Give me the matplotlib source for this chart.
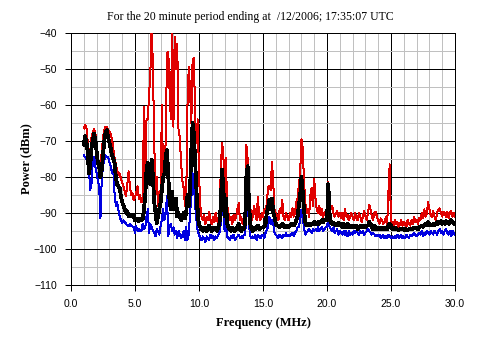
import matplotlib.pyplot as plt
import numpy as np

# frequency grid, 0.1 MHz steps from 1.0 to 30.0 MHz
freq = np.round(np.arange(1.0, 30.05, 0.1), 1)

# peak level (dBm)
peak = [
    -66.5, -65.5, -66, -70, -76, -73, -69, -67.5, -66.7, -67.5,
    -72, -76, -76.5, -78, -73, -69, -67, -66, -66.2, -67,
    -67.5, -68, -69.5, -72, -74.5, -76.5, -78, -79.4, -79, -80.5,
    -81.7, -82.5, -84, -85.4, -82, -78.4, -82.5, -85, -84.5, -86.5,
    -85.5, -84.5, -82.6, -86, -85, -87, -86.5, -60.5, -84, -64,
    -64, -57, -51, -38, -49.4, -70, -85, -80, -88, -84,
    -86, -60, -82, -78, -70, -45.6, -45.3, -56, -64, -38,
    -66, -41, -50, -43, -67, -69, -76, -81, -83, -88,
    -86, -60, -49.4, -56, -65, -47.5, -47, -63, -70.6, -64,
    -79, -88, -91, -92, -90.5, -93, -91, -92, -89.6, -92,
    -93, -91, -92.5, -90, -92, -93, -91, -78, -70.5, -73.5,
    -85, -74.8, -88, -90, -92, -91, -93, -90.5, -92, -91,
    -89, -87.3, -92, -91, -93, -92, -90, -71, -75, -86,
    -88, -92, -91, -88, -90, -92, -85.5, -91, -92, -90,
    -91, -89, -90, -87, -82.7, -82.5, -83.6, -75.7, -81.8, -89,
    -90, -91, -92, -89, -90, -86.4, -91, -92, -90, -91,
    -92, -90, -91, -88.7, -91, -90, -87, -86, -82.3, -79,
    -69.5, -72, -80.8, -87, -90, -89, -91, -85, -83.1, -88,
    -80.4, -86, -89, -90, -88, -90.5, -89, -91, -90, -89.5,
    -91, -81.3, -88, -89, -88, -90, -91, -90, -89.5, -91,
    -90, -91.5, -90, -92, -89, -91, -90.5, -92, -91, -90,
    -91, -92, -90, -91.5, -92, -90, -91, -92.5, -91, -89.5,
    -91, -92, -90, -87.8, -89, -91, -92, -90, -89.6, -91,
    -92, -93, -91.5, -92, -93, -92.5, -91, -93, -84, -76.5,
    -93, -92.5, -93.5, -92, -93, -92.5, -94, -93, -92, -93.5,
    -92.5, -93, -94, -92, -93, -93.5, -92, -93, -91, -92.5,
    -92, -93, -91.5, -92, -90, -91.5, -89, -91, -90, -86.9,
    -89, -90.5, -91, -89.5, -91, -92, -90, -89, -88.7, -90,
    -91, -89.6, -90, -91, -89.6, -91.5, -90, -89.5, -91, -90,
    -91,
]

# average level (dBm)
average = [
    -71, -68.7, -70, -73, -79, -77, -72, -70, -68, -69.5,
    -73, -76, -77, -80, -78, -74, -70, -67.5, -67, -69,
    -70.5, -72, -74, -75, -76, -80, -82, -82.6, -83, -85.4,
    -87, -88, -89, -90, -89.5, -91, -90.5, -91, -90.5, -91,
    -92, -91.5, -92, -92.3, -91.5, -92, -91.8, -89, -85.4, -78,
    -76, -80, -82, -75.2, -80, -87, -90, -92.8, -91, -89,
    -87, -83.5, -80, -79, -74, -72.5, -80, -87, -89, -84,
    -89, -88, -86, -91, -90, -91, -92, -91, -90, -91.5,
    -90, -85, -88, -83.6, -72.5, -65, -68, -76, -83.6, -91,
    -93, -94, -94.5, -95, -94, -94.5, -95, -94, -93.5, -94.5,
    -95, -94, -94.5, -94, -95, -94, -93, -88, -78, -82.7,
    -91, -86, -93, -94, -94.5, -95, -94, -94.5, -95, -94.5,
    -94, -93, -94.5, -95, -94, -94.5, -93, -80, -77, -87,
    -93, -94.5, -95, -94, -94.5, -94, -93.5, -94.5, -94, -94,
    -94, -93.8, -93, -90, -88.2, -86.4, -89, -86, -90, -91,
    -93, -93.5, -93.5, -94, -93.5, -93, -93.5, -94, -93.5, -93.5,
    -94, -93.5, -93, -93.5, -93.5, -93, -92, -91, -88, -85.5,
    -80, -84, -89, -92.5, -93.5, -93.3, -93, -93.5, -93, -93,
    -92.5, -93, -93, -92.5, -93, -92.5, -92, -92.5, -92, -92,
    -92, -82, -90, -92.5, -93, -92.8, -93, -93.5, -93, -92.8,
    -93.5, -93, -94, -93, -93.5, -94, -93, -93.5, -94, -93.5,
    -94, -93.5, -94, -93.5, -94.5, -94, -93.5, -94, -94, -93.5,
    -94, -93.5, -93.5, -92.5, -93, -94, -94.5, -93.5, -94, -94.5,
    -94, -94.5, -94, -94.5, -94, -94.5, -94, -94.5, -93.5, -93,
    -93.5, -94.5, -94.5, -94, -94.5, -94.5, -94.8, -94.5, -94.3, -94.5,
    -94.5, -94.8, -94.5, -94.8, -94.5, -94.5, -94.3, -94.5, -94, -94.3,
    -94, -94.5, -94, -93.8, -93.5, -93.8, -93.5, -93, -93.5, -92.5,
    -93, -93.5, -93.5, -93, -93.5, -93, -92.5, -93, -92.5, -92.3,
    -93, -92.5, -93, -92.3, -92.5, -93, -92.5, -92, -92.5, -93,
    -93,
]

# minimum level (dBm)
minimum = [
    -74, -74.5, -75, -76, -78, -83.5, -82, -76, -74.3, -77,
    -79, -81, -82.6, -91.4, -80.7, -77, -75.2, -74, -74.4, -74.5,
    -76, -77, -79, -78, -84.4, -88, -87, -89, -91, -92,
    -92.8, -92, -92.5, -93, -93.5, -93.7, -93, -93.5, -93.7, -94,
    -95.6, -93.7, -95, -94.5, -95, -95, -93, -94.5, -94, -91,
    -89, -95.5, -93, -94, -95, -95.5, -96.5, -94.5, -95, -96,
    -93.5, -92, -89, -92, -90, -85.4, -96.5, -94, -93, -95,
    -94, -96, -95, -97, -95, -96, -97, -96, -95, -97.5,
    -94, -97.5, -96, -90, -86, -79, -82, -88, -92, -95,
    -96, -97, -97.5, -96.5, -97, -98, -96.5, -97, -97.5, -96,
    -97, -96.5, -97.5, -96.5, -97, -96, -95.5, -93, -87, -90,
    -95, -93, -96.5, -97, -97.5, -96.5, -97, -96, -97.5, -97,
    -96.5, -96, -97, -96.5, -97, -96, -96, -91, -87, -93,
    -96.5, -97, -96.5, -97, -96, -97.5, -96, -96.5, -97, -96,
    -96, -97, -95.5, -94.5, -93.8, -91, -93, -92, -93, -95.5,
    -96, -96.5, -97, -96, -96.5, -97, -96, -96.5, -95.5, -96.5,
    -96, -96.5, -96, -95.5, -96.5, -95.5, -95, -94, -93.8, -92,
    -89.2, -91, -94, -96, -95.5, -95, -94.5, -95, -95.5, -94.5,
    -95, -94.5, -95, -94, -95, -94.5, -94, -95, -94.5, -94,
    -94, -91, -94, -94.5, -95, -94, -95.5, -95, -94.5, -96,
    -95, -95.5, -96, -95, -96, -95, -96.5, -95, -96, -95.5,
    -96, -95, -95.5, -95, -95.5, -96, -95, -95.5, -95, -96,
    -95.5, -95, -94.5, -95, -95.5, -96, -95.5, -96, -96.5, -96,
    -96.5, -96, -97, -96.5, -96, -97, -96.5, -97, -96, -96.5,
    -97, -96.5, -97, -96.5, -97, -96, -97, -96.5, -96, -97,
    -96.5, -97, -96, -96.5, -97, -96, -96.5, -96, -95.5, -96,
    -96.5, -96, -95.5, -96, -95, -96.5, -95.5, -96, -95, -95.5,
    -96, -95, -95.5, -96, -95, -95.5, -96, -95, -94.5, -95.5,
    -95, -96, -95, -94.5, -95.5, -96, -95, -96.5, -95, -95.5,
    -96,
]

title = "For the 20 minute period ending at  /12/2006; 17:35:07 UTC"

fig = plt.figure(figsize=(4.93, 3.48), dpi=100)
ax = fig.add_axes([71 / 493, 63 / 348, 384 / 493, 252 / 348])

ax.plot(freq, peak, color="#e00000", lw=0.72, zorder=3, antialiased=False)
ax.plot(freq, minimum, color="#0000e0", lw=0.72, zorder=3, antialiased=False)
ax.plot(freq, average, color="black", lw=2.0, zorder=4, antialiased=False)

ax.set_xlim(0, 30)
ax.set_ylim(-110, -40)
ax.set_xticks(np.arange(0, 30.1, 5))
ax.set_xticklabels([f"{v:.1f}" for v in np.arange(0, 30.1, 5)])
ax.set_yticks(np.arange(-110, -39, 10))
ax.set_xticks(np.arange(0, 31, 1), minor=True)
ax.set_yticks(np.arange(-110, -39, 5), minor=True)
ax.grid(which="minor", color="#c0c0c0", lw=0.72, zorder=1, antialiased=False)
ax.grid(which="major", color="black", lw=0.72, zorder=2, antialiased=False)
ax.tick_params(which="minor", length=0)
ax.tick_params(which="major", direction="out", length=4, width=0.72,
               labelsize=7.5, pad=6)
for t in ax.get_xticklabels() + ax.get_yticklabels():
    t.set_family("Liberation Sans")
for s in ax.spines.values():
    s.set_color("black")
    s.set_linewidth(0.72)
    s.set_antialiased(False)

ax.set_xlabel("Frequency (MHz)", family="Liberation Serif", weight="bold",
              fontsize=9, labelpad=6)
ax.set_ylabel("Power (dBm)", family="Liberation Serif", weight="bold",
              fontsize=9, labelpad=1)
fig.text(250 / 493, 1 - 17 / 348, title, family="Liberation Serif",
         fontsize=8.5, ha="center", va="center")

fig.savefig("out.png", dpi=100)
